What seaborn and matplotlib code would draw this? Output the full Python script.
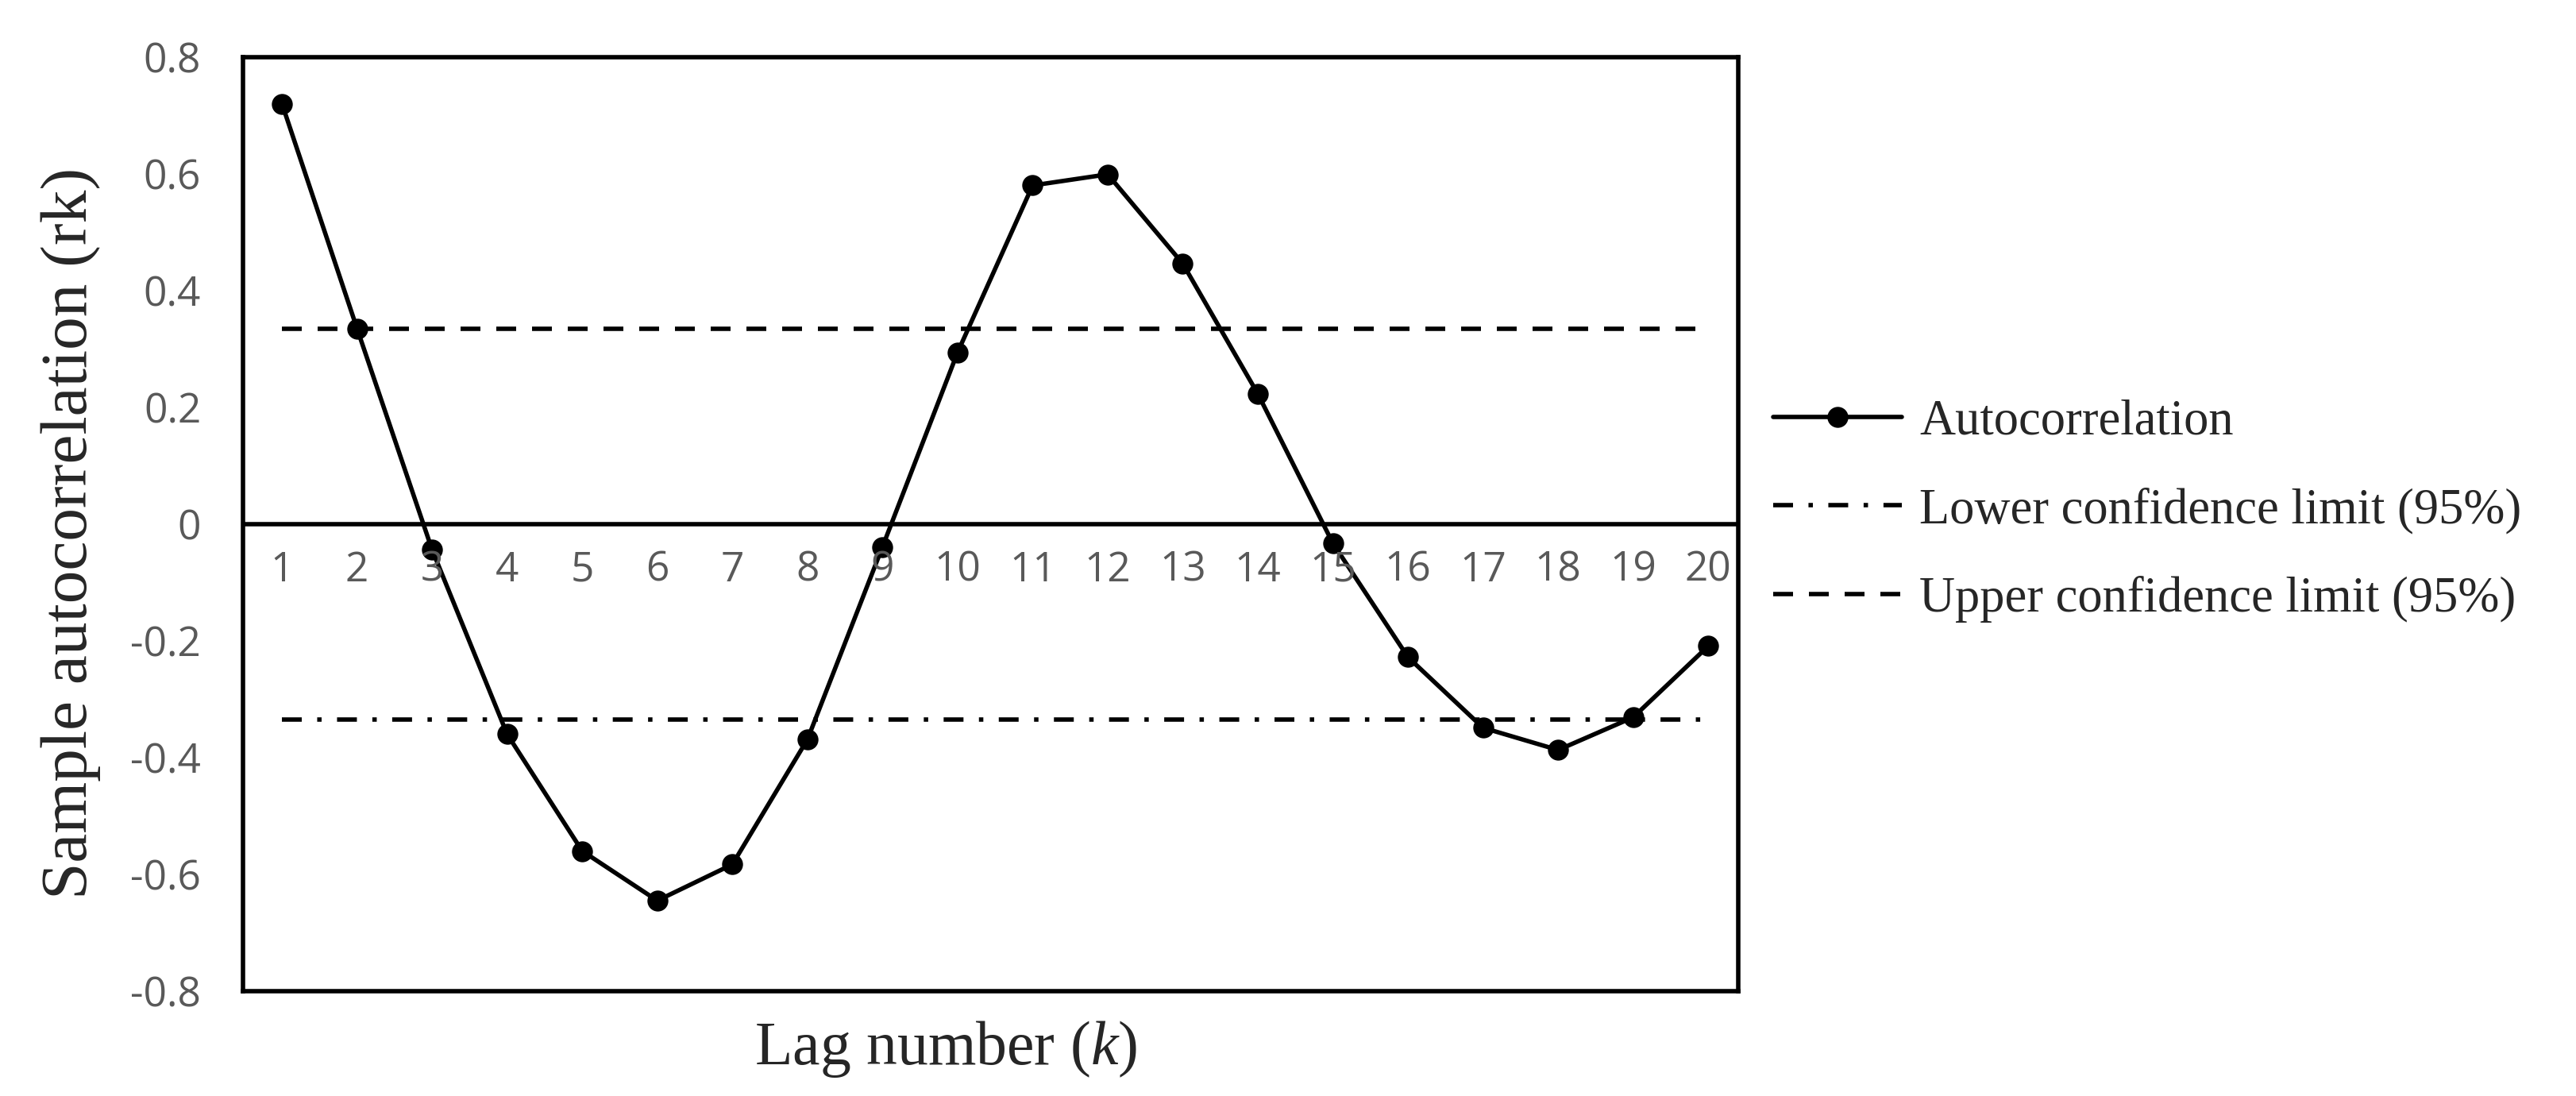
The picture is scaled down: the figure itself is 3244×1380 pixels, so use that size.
import matplotlib
matplotlib.use("Agg")
import matplotlib.pyplot as plt
import numpy as np
import pandas as pd
import seaborn as sns

# values
lags = list(range(1, 21))
autocorr = [0.72, 0.335, -0.044, -0.36, -0.56, -0.645, -0.583, -0.369, -0.039, 0.294,
            0.58, 0.599, 0.446, 0.223, -0.033, -0.228, -0.349, -0.387, -0.331, -0.209]
lower_limit = [-0.335] * 20
upper_limit = [0.335] * 20
y_ticks = [-0.8, -0.6, -0.4, -0.2, 0, 0.2, 0.4, 0.6, 0.8]
y_tick_labels = ["-0.8", "-0.6", "-0.4", "-0.2", "0", "0.2", "0.4", "0.6", "0.8"]

sns.set_style("white")
plt.rcParams['font.family'] = ['Liberation Serif', 'DejaVu Serif']
plt.rcParams['mathtext.fontset'] = 'custom'
plt.rcParams['mathtext.rm'] = 'Liberation Serif'
plt.rcParams['mathtext.it'] = 'Liberation Serif:italic'

df = pd.DataFrame({'Lag': lags, 'Autocorrelation': autocorr,
                   'Lower': lower_limit, 'Upper': upper_limit})

fig = plt.figure(figsize=(16.22, 6.9), dpi=200)
ax = fig.add_axes([0.0943, 0.0957, 0.5805, 0.8523])

sns.lineplot(data=df, x='Lag', y='Autocorrelation', ax=ax, color='black', lw=2.0,
             marker='o', markersize=9.5, markeredgewidth=0, label='Autocorrelation')
sns.lineplot(data=df, x='Lag', y='Lower', ax=ax, color='black', lw=2.0,
             ls=(0, (4.5, 3.5, 1, 3.5)), label='Lower confidence limit (95%)')
sns.lineplot(data=df, x='Lag', y='Upper', ax=ax, color='black', lw=2.0,
             ls=(0, (4.5, 3.6)), label='Upper confidence limit (95%)')
ax.axhline(0, color='black', lw=2.0, zorder=1)

ax.set_xlim(0.48, 20.4)
ax.set_ylim(-0.8, 0.8)
ax.set_yticks(y_ticks)
ax.set_yticklabels(y_tick_labels, family='Open Sans', fontsize=18.5, color='#595959')
ax.tick_params(axis='y', length=0, pad=19)
ax.set_xticks([])

# category labels sit just under the zero line
for k in lags:
    ax.annotate(str(k), xy=(k, 0), xytext=(0, -21), textcoords='offset points',
                ha='center', va='center', family='Open Sans', fontsize=18.5, color='#595959')

for side in ['left', 'right', 'top', 'bottom']:
    ax.spines[side].set_visible(True)
    ax.spines[side].set_color('black')
    ax.spines[side].set_linewidth(2.0)

ax.set_xlabel('Lag number ($\\mathit{k}$)', fontsize=28)
ax.xaxis.set_label_coords(0.47, -0.03)
ax.set_ylabel('Sample autocorrelation (rk)', fontsize=30)
ax.yaxis.set_label_coords(-0.095, 0.49)

leg = ax.legend(loc='upper left', bbox_to_anchor=(1.01, 0.655), frameon=False,
                fontsize=22.5, handlelength=2.6, handletextpad=0.35, labelspacing=0.85,
                borderaxespad=0)

fig.savefig('out.png', dpi=200)
